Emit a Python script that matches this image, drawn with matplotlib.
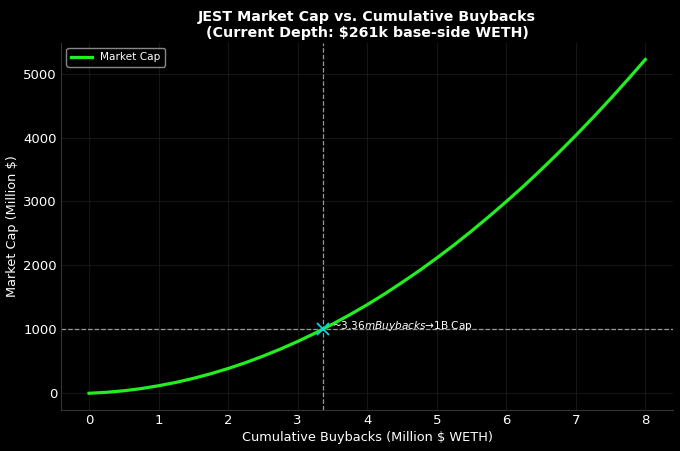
import matplotlib
matplotlib.use("Agg")
import matplotlib.pyplot as plt

# buybacks in million $ WETH, market cap in million $
buybacks = [0.0, 0.25, 0.5, 0.75, 1.0, 1.25, 1.5, 1.75, 2.0, 2.25, 2.5, 2.75,
            3.0, 3.25, 3.5, 3.75, 4.0, 4.25, 4.5, 4.75, 5.0, 5.25, 5.5, 5.75,
            6.0, 6.25, 6.5, 6.75, 7.0, 7.25, 7.5, 7.75, 8.0]
market_cap = [0, 15, 39, 73, 118, 170, 233, 305, 387, 478, 580, 690,
              810, 940, 1080, 1228, 1385, 1553, 1732, 1918, 2115, 2320, 2537, 2763,
              2998, 3240, 3496, 3760, 4033, 4316, 4608, 4910, 5220]

target_buyback = 3.36
target_cap = 1000
label_text = "~$3.36m Buybacks → $1B Cap"

plt.style.use("dark_background")
fig, ax = plt.subplots(figsize=(6.8, 4.51), dpi=100)
fig.patch.set_facecolor("black")
ax.set_facecolor("black")

ax.plot(buybacks, market_cap, color="#22ee22", lw=2.3, label="Market Cap")
ax.axhline(target_cap, color="#999999", ls="--", lw=0.9)
ax.axvline(target_buyback, color="#999999", ls="--", lw=0.9)
ax.plot([target_buyback], [target_cap], marker="x", color="#00d8e8", ms=8, mew=1.3)
ax.text(target_buyback + 0.13, target_cap + 60, label_text, color="white", fontsize=7.6,
        va="center", ha="left")

ax.grid(True, color="#242424", alpha=0.6, lw=0.8)
for side in ["top", "right"]:
    ax.spines[side].set_visible(False)
for side in ["left", "bottom"]:
    ax.spines[side].set_color("#333333")
ax.tick_params(colors="white", length=0, labelsize=9.5, pad=3)

ax.set_xlabel("Cumulative Buybacks (Million $ WETH)", fontsize=9.3, labelpad=2.5)
ax.set_ylabel("Market Cap (Million $)", fontsize=9.3, labelpad=3)
ax.set_title("JEST Market Cap vs. Cumulative Buybacks\n(Current Depth: $261k base-side WETH)",
             fontsize=10.3, fontweight="bold", color="white", linespacing=1.2, pad=4)
ax.legend(loc="upper left", fontsize=7.6, edgecolor="#aaaaaa", facecolor="black")

fig.subplots_adjust(left=0.09, right=0.99, top=0.905, bottom=0.091)
fig.savefig("out.png", dpi=100, facecolor="black")
